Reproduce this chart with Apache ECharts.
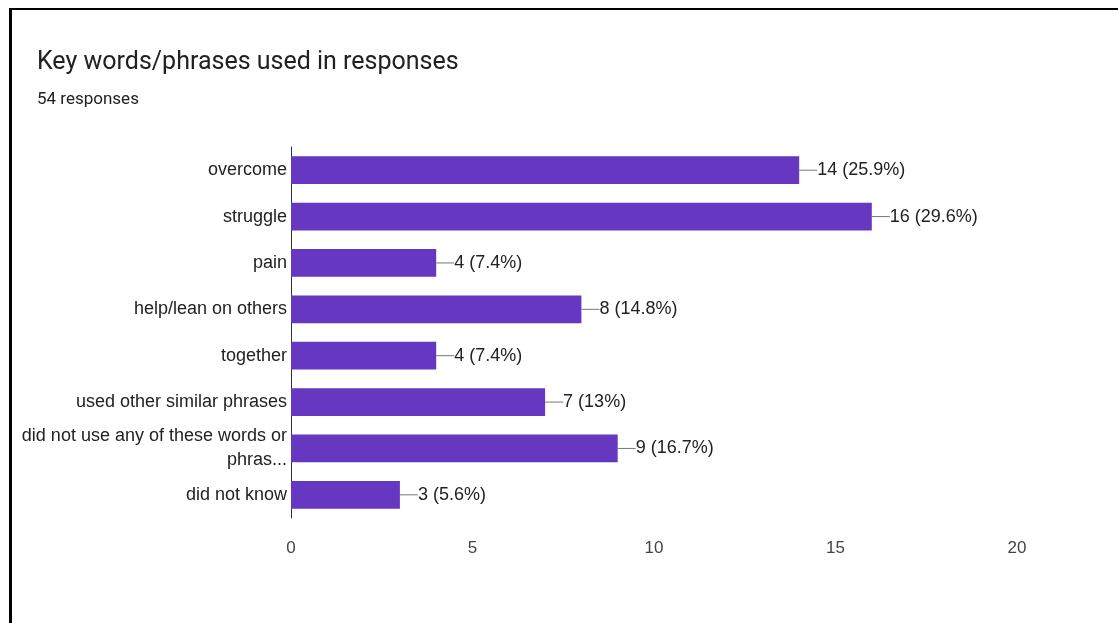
<!DOCTYPE html>
<html>
<head>
<meta charset="utf-8">
<script src="https://cdn.jsdelivr.net/npm/echarts@6/dist/echarts.min.js"></script>
<style>
  html, body { margin: 0; padding: 0; background: #fff; }
  #frame {
    position: absolute; left: 9px; top: 8px; right: 0; bottom: 0;
    border-top: 2px solid #000; border-left: 3px solid #000;
  }
  #chart { width: 1118px; height: 623px; }
</style>
</head>
<body>
<div id="chart"></div>
<div id="frame"></div>
<script>
const categories = [
  'overcome',
  'struggle',
  'pain',
  'help/lean on others',
  'together',
  'used other similar phrases',
  'did not use any of these words or\nphras...',
  'did not know'
]
const counts = [14, 16, 4, 8, 4, 7, 9, 3]
const percents = ['25.9', '29.6', '7.4', '14.8', '7.4', '13', '16.7', '5.6']
const xTicks = [0, 20, 5] // min, max, interval

const chart = echarts.init(document.getElementById('chart'))

chart.setOption({
  animation: false,
  title: {
    text: 'Key words/phrases used in responses',
    subtext: '54 responses',
    left: 32,
    top: 45,
    itemGap: 16,
    textStyle: { fontFamily: 'Roboto', fontSize: 25, fontWeight: 'normal', color: '#202124' },
    subtextStyle: { fontFamily: 'Roboto', fontSize: 17, color: '#202124' }
  },
  grid: { left: 291, right: 101, top: 147, bottom: 105 },
  xAxis: {
    type: 'value',
    min: xTicks[0],
    max: xTicks[1],
    interval: xTicks[2],
    axisLine: { show: false },
    axisTick: { show: false },
    splitLine: { show: false },
    axisLabel: { margin: 22, fontFamily: 'Liberation Sans', fontSize: 17, color: '#444' }
  },
  yAxis: {
    type: 'category',
    inverse: true,
    data: categories,
    axisLine: { show: true, lineStyle: { color: '#333', width: 1 } },
    axisTick: { show: false },
    axisLabel: {
      margin: 4,
      fontFamily: 'Liberation Sans',
      fontSize: 18,
      color: '#222',
      lineHeight: 24
    }
  },
  series: [{
    type: 'bar',
    data: counts,
    barWidth: '60%',
    itemStyle: { color: '#6637c0' },
    label: {
      show: true,
      position: 'right',
      distance: 0,
      fontFamily: 'Liberation Sans',
      fontSize: 18,
      color: '#222',
      formatter: p => p.value + ' (' + percents[p.dataIndex] + '%)'
    },
    labelLayout: { dx: 18 },
    labelLine: { show: true, lineStyle: { color: '#777', width: 1 } }
  }]
})
</script>
</body>
</html>
